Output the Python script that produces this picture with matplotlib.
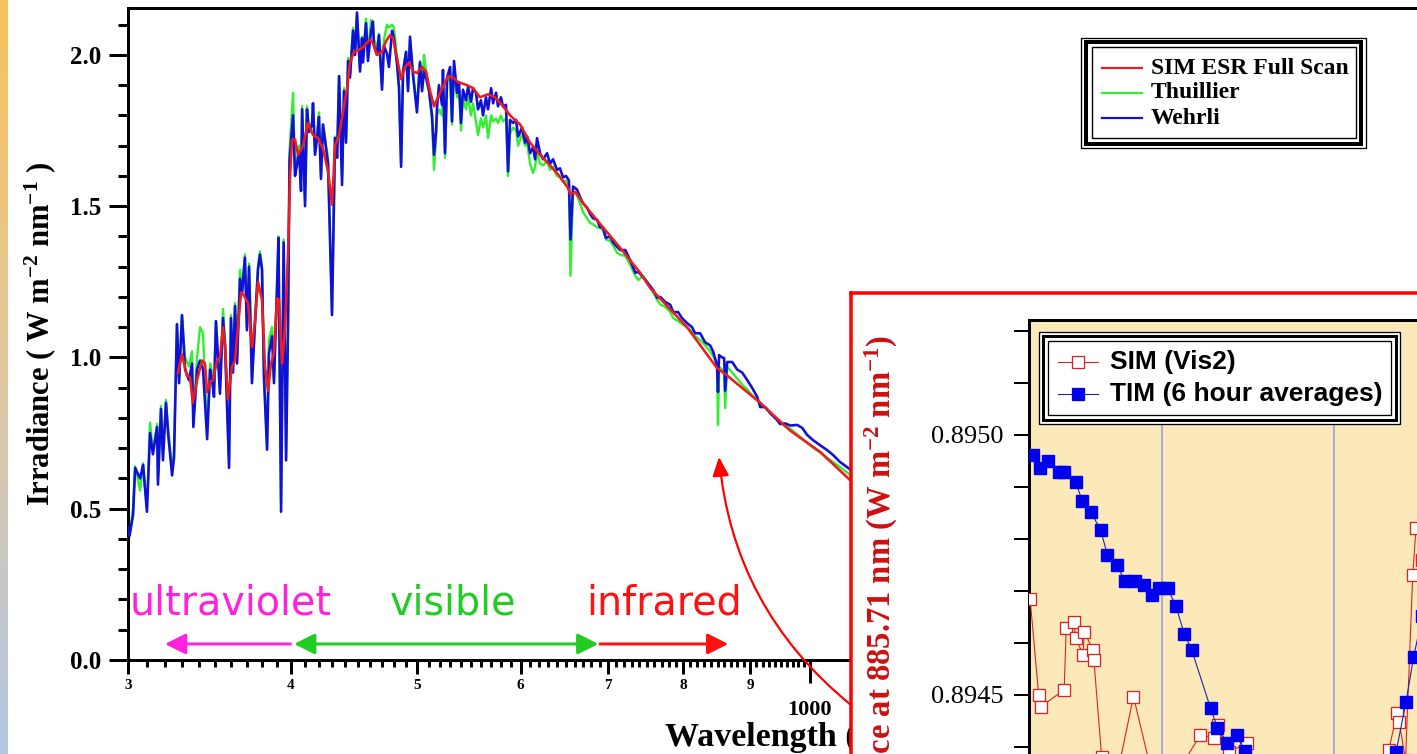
import numpy as np
import matplotlib
matplotlib.use("Agg")
import matplotlib.pyplot as plt
from matplotlib.patches import Rectangle, FancyArrowPatch, ArrowStyle
from matplotlib.lines import Line2D
from matplotlib.ticker import FixedLocator, FixedFormatter, NullFormatter, NullLocator
from matplotlib.colors import LinearSegmentedColormap

# ---------------- data ----------------
# shared wavelength grid (nm) for the two reference spectra
wl_ref = [
    300.0, 300.8, 302.7, 303.8, 306.5, 308.1, 310.2, 311.9, 313.5, 315.8,
    316.3, 318.0, 319.1, 320.8, 322.0, 324.3, 325.4, 327.1, 328.3, 330.0,
    331.8, 334.1, 335.9, 336.7, 338.9, 340.7, 342.5, 345.0, 346.8, 348.0,
    349.2, 350.4, 352.9, 354.8, 356.1, 358.6, 359.8, 361.1, 362.4, 363.7,
    365.6, 367.0, 368.8, 370.1, 371.5, 373.4, 375.4, 377.4, 378.7, 380.1,
    381.4, 383.5, 384.8, 386.9, 388.2, 390.3, 391.3, 393.1, 394.9, 396.6,
    398.0, 399.0, 401.5, 402.9, 404.4, 405.8, 407.2, 408.0, 410.1, 411.5,
    413.0, 415.2, 415.9, 417.4, 418.9, 420.3, 421.8, 423.3, 425.6, 427.1,
    430.1, 432.4, 434.0, 435.5, 437.8, 439.3, 440.9, 442.5, 444.0, 446.4,
    448.0, 449.5, 451.9, 453.5, 454.3, 456.7, 458.3, 460.7, 462.3, 463.2,
    465.6, 467.3, 469.8, 471.4, 473.9, 475.6, 478.2, 479.8, 482.4, 484.1,
    485.9, 487.6, 490.2, 491.9, 493.6, 496.2, 498.0, 499.7, 502.4, 504.2,
    506.0, 508.7, 510.5, 513.2, 515.0, 516.8, 517.7, 519.5, 522.3, 523.2,
    525.1, 527.0, 529.8, 531.6, 533.5, 536.3, 538.2, 540.1, 542.0, 544.9,
    546.9, 549.8, 551.7, 554.6, 556.6, 559.5, 561.5, 564.5, 566.5, 569.6,
    571.6, 574.6, 576.6, 579.6, 581.7, 584.8, 586.9, 589.0, 592.2, 595.3,
    597.4, 601.6, 604.8, 607.0, 610.2, 613.4, 615.6, 617.7, 621.0, 624.4,
    628.8, 632.1, 635.4, 639.9, 643.3, 646.8, 650.2, 653.5, 655.3, 658.3,
    662.9, 666.5, 670.0, 674.7, 678.3, 681.9, 686.8, 690.4, 694.0, 697.7,
    702.7, 706.6, 711.7, 715.5, 722.0, 728.4, 734.8, 738.6, 745.0, 751.5,
    758.3, 763.8, 767.9, 774.8, 781.6, 785.7, 792.5, 798.0, 804.9, 812.2,
    816.6, 823.9, 831.2, 838.5, 842.9, 848.8, 850.3, 851.9, 856.5, 859.6,
    861.1, 864.2, 871.9, 879.6, 887.4, 895.1, 903.0, 911.2, 916.1, 924.3,
    932.5, 943.9, 948.8, 957.4, 966.0, 978.1, 986.7, 995.2, 1005.5, 1018.2,
    1030.8, 1041.6, 1054.4, 1067.7, 1075.3, 1092.4,
]
irr_wehrli = [
    0.44, 0.41, 0.48, 0.635, 0.60, 0.645, 0.49, 0.75, 0.68, 0.77,
    0.58, 0.83, 0.66, 0.85, 0.75, 0.61, 0.67, 1.11, 0.915, 1.14,
    0.96, 0.925, 0.98, 0.77, 0.96, 0.99, 0.96, 0.73, 0.96, 0.925,
    0.87, 1.12, 0.88, 1.13, 1.035, 0.635, 1.13, 0.95, 1.17, 0.98,
    1.26, 1.215, 1.33, 1.09, 1.30, 0.915, 1.11, 1.29, 1.34, 1.29,
    0.935, 0.695, 1.015, 1.07, 0.915, 1.23, 1.395, 0.49, 1.38, 0.66,
    1.12, 1.65, 1.80, 1.60, 1.64, 1.68, 1.55, 1.82, 1.50, 1.82,
    1.745, 1.77, 1.84, 1.67, 1.725, 1.795, 1.59, 1.77, 1.69, 1.64,
    1.14, 1.725, 1.66, 1.93, 1.57, 1.88, 1.71, 1.98, 1.925, 2.08,
    2.00, 2.14, 1.945, 2.055, 1.975, 2.105, 1.98, 2.075, 2.11, 2.03,
    2.00, 2.065, 1.885, 2.03, 2.005, 1.96, 2.08, 2.055, 1.97, 1.89,
    1.63, 1.945, 2.01, 1.88, 2.06, 1.935, 1.87, 1.81, 1.975, 1.88,
    1.95, 1.91, 1.88, 1.80, 1.67, 1.745, 1.825, 1.90, 1.835, 1.95,
    1.675, 1.925, 1.96, 1.78, 1.98, 1.875, 1.91, 1.775, 1.885, 1.85,
    1.895, 1.845, 1.89, 1.875, 1.82, 1.85, 1.80, 1.86, 1.82, 1.89,
    1.84, 1.875, 1.83, 1.86, 1.83, 1.835, 1.615, 1.785, 1.775, 1.785,
    1.73, 1.76, 1.71, 1.73, 1.675, 1.695, 1.655, 1.725, 1.675, 1.655,
    1.675, 1.64, 1.655, 1.62, 1.625, 1.595, 1.60, 1.585, 1.39, 1.565,
    1.555, 1.53, 1.51, 1.495, 1.475, 1.46, 1.455, 1.43, 1.43, 1.395,
    1.40, 1.38, 1.365, 1.355, 1.355, 1.32, 1.28, 1.283, 1.265, 1.245,
    1.223, 1.197, 1.20, 1.183, 1.174, 1.15, 1.15, 1.13, 1.114, 1.10,
    1.08, 1.08, 1.05, 1.04, 1.02, 0.975, 0.886, 1.008, 1.00, 0.998,
    0.89, 0.985, 0.985, 0.96, 0.95, 0.926, 0.90, 0.87, 0.836, 0.836,
    0.816, 0.793, 0.78, 0.782, 0.775, 0.777, 0.767, 0.744, 0.727, 0.71,
    0.694, 0.678, 0.655, 0.638, 0.628, 0.60,
]
irr_thuillier = [
    0.44, 0.42, 0.50, 0.64, 0.56, 0.65, 0.50, 0.785, 0.69, 0.78,
    0.60, 0.84, 0.68, 0.86, 0.77, 0.63, 0.69, 1.11, 0.93, 1.14,
    1.00, 0.97, 1.02, 0.80, 1.00, 1.10, 1.08, 0.76, 0.98, 0.95,
    0.90, 1.12, 0.90, 1.16, 1.05, 0.66, 1.14, 0.97, 1.18, 1.00,
    1.29, 1.23, 1.34, 1.10, 1.31, 0.93, 1.12, 1.30, 1.35, 1.30,
    0.95, 0.71, 1.06, 1.10, 0.93, 1.24, 1.40, 0.52, 1.39, 0.68,
    1.13, 1.68, 1.875, 1.62, 1.66, 1.70, 1.56, 1.83, 1.52, 1.83,
    1.75, 1.78, 1.84, 1.68, 1.74, 1.81, 1.60, 1.77, 1.70, 1.66,
    1.15, 1.73, 1.67, 1.93, 1.60, 1.89, 1.73, 1.99, 1.94, 2.09,
    2.02, 2.13, 1.96, 2.06, 1.99, 2.12, 2.00, 2.115, 2.11, 2.05,
    2.02, 2.07, 1.90, 2.05, 2.10, 2.09, 2.10, 2.09, 1.99, 1.90,
    1.64, 1.95, 2.01, 1.89, 2.05, 1.94, 1.88, 1.83, 1.98, 1.89,
    2.00, 1.92, 1.88, 1.78, 1.62, 1.72, 1.80, 1.82, 1.80, 1.85,
    1.66, 1.91, 1.93, 1.77, 1.95, 1.86, 1.89, 1.75, 1.86, 1.82,
    1.86, 1.80, 1.84, 1.78, 1.735, 1.79, 1.76, 1.80, 1.725, 1.80,
    1.78, 1.79, 1.775, 1.80, 1.78, 1.79, 1.60, 1.74, 1.76, 1.75,
    1.70, 1.74, 1.70, 1.71, 1.64, 1.61, 1.63, 1.68, 1.64, 1.635,
    1.65, 1.62, 1.63, 1.60, 1.595, 1.58, 1.585, 1.57, 1.27, 1.55,
    1.535, 1.51, 1.48, 1.46, 1.445, 1.44, 1.43, 1.43, 1.42, 1.39,
    1.385, 1.37, 1.345, 1.34, 1.335, 1.305, 1.27, 1.256, 1.27, 1.245,
    1.215, 1.19, 1.175, 1.167, 1.15, 1.13, 1.12, 1.11, 1.10, 1.085,
    1.07, 1.058, 1.04, 1.02, 1.005, 0.98, 0.777, 0.97, 0.96, 0.95,
    0.833, 0.97, 0.95, 0.93, 0.91, 0.895, 0.875, 0.86, 0.85, 0.835,
    0.815, 0.795, 0.785, 0.772, 0.765, 0.745, 0.732, 0.718, 0.702, 0.686,
    0.668, 0.655, 0.638, 0.62, 0.61, 0.585,
]
wl_sim = [
    327.7, 330.0, 332.9, 334.7, 336.4, 338.9, 341.9, 343.7, 345.0, 346.8,
    348.6, 351.1, 352.9, 354.8, 356.1, 357.9, 360.5, 362.4, 364.3, 366.3,
    368.2, 370.8, 373.4, 375.4, 377.4, 380.1, 382.1, 384.1, 386.2, 388.2,
    390.3, 391.6, 393.8, 395.9, 398.0, 399.4, 400.8, 402.9, 405.1, 408.7,
    412.2, 415.9, 419.6, 423.3, 427.1, 430.1, 432.4, 435.5, 438.5, 441.7,
    444.0, 447.2, 450.3, 454.3, 457.5, 460.0, 462.3, 465.6, 469.8, 473.1,
    476.4, 479.0, 482.4, 485.9, 489.3, 492.8, 496.2, 499.7, 504.2, 507.8,
    511.4, 515.0, 518.6, 523.2, 527.9, 532.6, 537.3, 545.9, 551.7, 558.5,
    566.5, 573.6, 580.6, 589.0, 599.5, 610.2, 621.0, 632.1, 643.3, 652.5,
    655.3, 661.1, 670.0, 681.9, 694.0, 706.6, 719.3, 731.6, 741.1, 754.2,
    805.1, 848.8, 864.2, 916.1, 966.0, 1018.2, 1073.4, 1092.4,
]
irr_sim = [
    0.95, 1.01, 0.94, 0.935, 0.85, 0.925, 0.99, 0.98, 0.886, 0.92,
    0.925, 0.99, 1.00, 1.10, 1.035, 0.86, 0.97, 0.99, 1.10, 1.215,
    1.205, 1.18, 1.035, 1.12, 1.25, 1.19, 0.97, 0.89, 0.98, 1.015,
    1.195, 1.19, 0.98, 1.10, 1.35, 1.60, 1.72, 1.72, 1.67, 1.70,
    1.775, 1.735, 1.725, 1.69, 1.615, 1.505, 1.70, 1.735, 1.81, 1.89,
    1.975, 2.01, 2.015, 2.025, 2.04, 2.05, 2.04, 2.00, 2.01, 2.045,
    2.065, 2.055, 1.99, 1.92, 1.96, 1.975, 1.945, 1.94, 1.96, 1.945,
    1.88, 1.83, 1.86, 1.895, 1.93, 1.925, 1.91, 1.90, 1.89, 1.86,
    1.87, 1.86, 1.835, 1.80, 1.77, 1.71, 1.67, 1.635, 1.597, 1.56,
    1.54, 1.547, 1.51, 1.47, 1.43, 1.39, 1.35, 1.31, 1.28, 1.23,
    1.10, 0.965, 0.94, 0.85, 0.758, 0.688, 0.595, 0.57,
]

# inset: irradiance at 885.71 nm versus time (days)
day_sim = [0.232, 0.282, 0.293, 0.430, 0.442, 0.486, 0.498, 0.540, 0.547, 0.596,
           0.603, 0.648, 0.720, 0.833, 0.963, 1.098, 1.222, 1.301, 1.323, 1.390,
           1.492, 1.573, 1.878, 2.183, 2.317, 2.366, 2.378, 2.415, 2.457, 2.476,
           2.512, 2.537, 2.567, 2.579, 2.592, 2.610]
irr_sim885 = [0.894685, 0.894500, 0.894477, 0.894510, 0.894628, 0.894641, 0.894609,
              0.894577, 0.894622, 0.894587, 0.894567, 0.894381, 0.894317, 0.894497,
              0.894317, 0.894356, 0.894423, 0.894417, 0.894442, 0.894390, 0.894408,
              0.894337, 0.894317, 0.894337, 0.894394, 0.894465, 0.894448, 0.894375,
              0.894731, 0.894821, 0.894760, 0.894767, 0.894812, 0.894831, 0.894908,
              0.894988]
day_tim = [0.248, 0.288, 0.338, 0.401, 0.427, 0.498, 0.536, 0.587, 0.642, 0.682,
           0.738, 0.783, 0.840, 0.892, 0.941, 0.981, 1.031, 1.079, 1.128, 1.171,
           1.281, 1.321, 1.379, 1.433, 1.479, 1.550, 1.800, 2.050, 2.300, 2.360,
           2.418, 2.462, 2.512, 2.558, 2.592, 2.630]
irr_tim = [0.894962, 0.894936, 0.894949, 0.894929, 0.894928, 0.894909, 0.894872,
           0.894851, 0.894817, 0.894769, 0.894749, 0.894719, 0.894719, 0.894712,
           0.894692, 0.894705, 0.894705, 0.894672, 0.894618, 0.894587, 0.894475,
           0.894437, 0.894407, 0.894423, 0.894392, 0.894350, 0.894280, 0.894280,
           0.894350, 0.894390, 0.894487, 0.894573, 0.894651, 0.894705, 0.894754,
           0.894820]
day_boundaries = [1.0, 2.0]

x_major = [300, 400, 500, 600, 700, 800, 900]
x_major_labels = ['3', '4', '5', '6', '7', '8', '9']
x_minor = [w for w in range(310, 1000, 10) if w % 100 != 0]
x_big = [1000]
x_big_labels = ['1000']
y_major = [0.0, 0.5, 1.0, 1.5, 2.0]
y_major_labels = ['0.0', '0.5', '1.0', '1.5', '2.0']
y_minor = [round(0.1 * i, 1) for i in range(0, 22)]
inset_y_major = [0.8945, 0.8950]
inset_y_labels = ['0.8945', '0.8950']
inset_y_minor = [0.8944, 0.8946, 0.8947, 0.8948, 0.8949, 0.8951, 0.8952]

band_names = ['ultraviolet', 'visible', 'infrared']
band_colors = ['#FF22DD', '#22CC22', '#FF1111']
series_names = ['SIM ESR Full Scan', 'Thuillier', 'Wehrli']
series_colors = ['#EE1C1C', '#33EE33', '#1010D8']

# ---------------- figure ----------------
W, H, DPI = 1417, 754, 100
PX = 72.0 / DPI
SERIF = 'Liberation Serif'
plt.rcParams['font.family'] = [SERIF, 'DejaVu Sans']
plt.rcParams['font.weight'] = 'bold'
plt.rcParams['mathtext.fontset'] = 'custom'
plt.rcParams['mathtext.rm'] = 'Liberation Serif:bold'
plt.rcParams['mathtext.it'] = 'Liberation Serif:bold'
plt.rcParams['mathtext.bf'] = 'Liberation Serif:bold'
plt.rcParams['mathtext.default'] = 'rm'

fig = plt.figure(figsize=(W / DPI, H / DPI), dpi=DPI)
fig.patch.set_facecolor('white')


def fx(x):
    return x / W


def fy(y):
    return 1 - y / H


def box(x0, y0, x1, y1):
    return [x0 / W, 1 - y1 / H, (x1 - x0) / W, (y1 - y0) / H]


# left gradient strip
axg = fig.add_axes(box(0, 0, 8, 754))
cmap = LinearSegmentedColormap.from_list('strip', ['#F7C45A', '#E2C9A2', '#B2C7E6'])
axg.imshow(np.linspace(0, 1, 256).reshape(-1, 1), aspect='auto', cmap=cmap,
           extent=[0, 1, 0, 1])
axg.set_axis_off()

# main axes
ax = fig.add_axes(box(128, 8, 1432, 660))
ax.set_xscale('log')
ax.plot(wl_ref, irr_thuillier, color=series_colors[1], lw=2.4 * PX, zorder=2)
ax.plot(wl_ref, irr_wehrli, color=series_colors[2], lw=2.6 * PX, zorder=3)
ax.plot(wl_sim, irr_sim, color=series_colors[0], lw=2.6 * PX, zorder=4)
ax.set_xlim(300, 3000)
ax.set_ylim(0, 2.155)
for s in ax.spines.values():
    s.set_linewidth(3 * PX)

ax.yaxis.set_major_locator(FixedLocator(y_major))
ax.yaxis.set_major_formatter(FixedFormatter(y_major_labels))
ax.yaxis.set_minor_locator(FixedLocator(y_minor))
ax.tick_params(axis='y', which='major', direction='out', length=19 * PX,
               width=3 * PX, pad=8 * PX, labelsize=18)
ax.tick_params(axis='y', which='minor', direction='out', length=10 * PX, width=3 * PX)

ax.xaxis.set_major_locator(FixedLocator(x_major))
ax.xaxis.set_major_formatter(FixedFormatter(x_major_labels))
ax.xaxis.set_minor_locator(FixedLocator(x_minor))
ax.xaxis.set_minor_formatter(NullFormatter())
ax.tick_params(axis='x', which='major', direction='out', length=14 * PX,
               width=3 * PX, pad=5 * PX, labelsize=11)
ax.tick_params(axis='x', which='minor', direction='out', length=7 * PX, width=3 * PX)

sec = ax.secondary_xaxis('bottom')
sec.set_xticks(x_big)
sec.set_xticklabels(x_big_labels)
sec.xaxis.set_minor_locator(NullLocator())
sec.tick_params(axis='x', which='major', direction='out', length=23 * PX,
                width=3 * PX, pad=17 * PX, labelsize=16)
sec.spines['bottom'].set_linewidth(3 * PX)

ax.set_xlabel('Wavelength (nm)', fontsize=24.5, fontweight='bold')
ax.xaxis.set_label_coords(0.508, -0.095)
ax.set_ylabel(r'Irradiance ( W m$^{-2}$ nm$^{-1}$ )', fontsize=22, fontweight='bold')
ax.yaxis.set_label_coords(-0.054, 0.5)

# spectral band labels and arrows
band_text_x = [301.0, 476.4, 673.5]
band_arrows = [(399.7, 320.2, '-|>'), (402.2, 688.5, '<|-|>'), (690.4, 866.0, '-|>')]
for name, col, tx in zip(band_names, band_colors, band_text_x):
    ax.text(tx, 0.149, name, color=col, fontsize=28.5, fontweight='normal',
            family='DejaVu Sans', ha='left', va='baseline', zorder=6)
for (x0, x1, st), col in zip(band_arrows, band_colors):
    ax.annotate('', xy=(x1, 0.053), xytext=(x0, 0.053),
                arrowprops=dict(arrowstyle=ArrowStyle(st, head_length=0.9, head_width=0.45),
                                color=col, lw=3 * PX, shrinkA=0, shrinkB=0,
                                mutation_scale=14),
                zorder=6)

# main legend (triple frame)
for (x0, y0, x1, y1, lw) in [(1081, 38, 1366, 148, 1.3), (1086, 42, 1361, 144, 4.0),
                             (1092, 47, 1356, 138, 1.4)]:
    fig.add_artist(Rectangle((fx(x0), fy(y1)), (x1 - x0) / W, (y1 - y0) / H,
                             transform=fig.transFigure, fill=(lw == 1.3), facecolor='white',
                             edgecolor='black', lw=lw * PX, zorder=5))
for i, (name, col) in enumerate(zip(series_names, series_colors)):
    yy = fy(68 + 25 * i)
    fig.add_artist(Line2D([fx(1102), fx(1142)], [yy, yy], color=col, lw=2.2 * PX, zorder=6))
    fig.text(fx(1151), yy, name, fontsize=17, fontweight='bold', ha='left', va='center',
             zorder=6)

# inset frame (red) and inner axes
axf = fig.add_axes(box(851, 293, 1460, 800))
axf.set_facecolor('white')
axf.set_xticks([])
axf.set_yticks([])
for s in axf.spines.values():
    s.set_color('#FF0000')
    s.set_linewidth(3.5 * PX)
axf.text(fx(881), fy(335),
         r'Irradiance at 885.71 nm (W m$^{-2}$ nm$^{-1}$)', transform=fig.transFigure,
         rotation=90, ha='center', va='top', fontsize=23.5, fontweight='bold',
         color='#CC1111')

axi = fig.add_axes(box(1029, 320, 1460, 800))
axi.set_facecolor('#FCE9BA')
for d in day_boundaries:
    axi.axvline(d, ymax=0.785, color='#9A9AE0', lw=1.6 * PX, zorder=1)
axi.plot(day_sim, irr_sim885, color='#DD2222', lw=1.1 * PX, marker='s', ms=8,
         mfc='white', mec='#DD2222', mew=1.3 * PX, zorder=3)
axi.plot(day_tim, irr_tim, color='#2020A0', lw=1.1 * PX, marker='s', ms=8.5,
         mfc='#0000EE', mec='#0000EE', zorder=4)
axi.set_xlim(0.2256, 2.7317)
axi.set_ylim(0.894298, 0.895221)
axi.set_xticks([])
axi.yaxis.set_major_locator(FixedLocator(inset_y_major))
axi.yaxis.set_major_formatter(FixedFormatter(inset_y_labels))
axi.yaxis.set_minor_locator(FixedLocator(inset_y_minor))
axi.tick_params(axis='y', which='both', direction='out', length=15 * PX, width=2 * PX,
                pad=10 * PX, labelsize=19)
for lab in axi.get_yticklabels():
    lab.set_fontweight('normal')
for s in axi.spines.values():
    s.set_linewidth(3 * PX)

# inset legend
for (x0, y0, x1, y1, lw) in [(1039, 332, 1400, 424, 1.3), (1043, 336, 1396, 420, 3.0),
                             (1048, 341, 1391, 415, 1.3)]:
    fig.add_artist(Rectangle((fx(x0), fy(y1)), (x1 - x0) / W, (y1 - y0) / H,
                             transform=fig.transFigure, fill=(lw == 1.3 and x0 == 1039),
                             facecolor='white', edgecolor='black', lw=lw * PX, zorder=5))
inset_names = ['SIM (Vis2)', 'TIM (6 hour averages)']
inset_styles = [('#DD2222', 'white', '#DD2222'), ('#2020A0', '#0000EE', '#0000EE')]
for i, (name, (lc, fc, ec)) in enumerate(zip(inset_names, inset_styles)):
    yy = fy(362 + 32 * i)
    fig.add_artist(Line2D([fx(1058), fx(1098)], [yy, yy], color=lc, lw=1.1 * PX, zorder=6))
    fig.add_artist(Line2D([fx(1078)], [yy], marker='s', ms=8, mfc=fc, mec=ec,
                          mew=1.3 * PX, lw=0, zorder=7))
    fig.text(fx(1110), yy, name, fontsize=19, fontweight='bold', family='Liberation Sans',
             ha='left', va='center', zorder=7)

# curved pointer from inset to the 885 nm region
fig.add_artist(FancyArrowPatch((fx(851), fy(705)), (fx(719), fy(457)),
                               transform=fig.transFigure,
                               connectionstyle='arc3,rad=-0.21',
                               arrowstyle=ArrowStyle('-|>', head_length=1.15, head_width=0.5),
                               mutation_scale=10, color='#FF0000', lw=2.2 * PX,
                               shrinkA=0, shrinkB=0, zorder=8))

fig.savefig('out.png', dpi=DPI, facecolor='white')
